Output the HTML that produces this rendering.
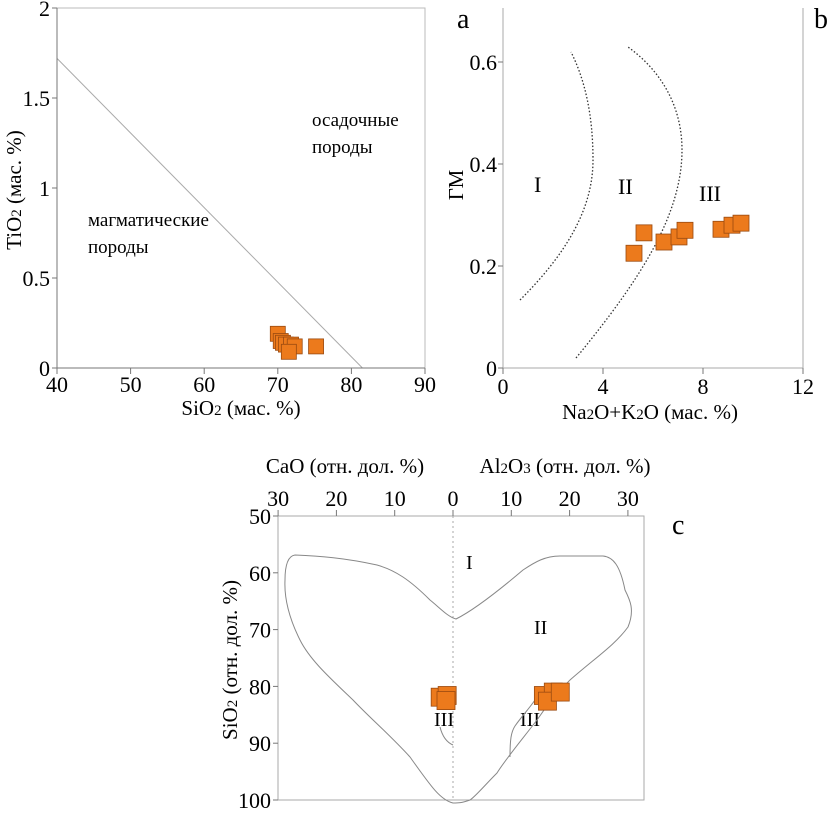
<!DOCTYPE html>
<html><head><meta charset="utf-8"><style>
html,body{margin:0;padding:0;background:#fff}
svg{display:block;font-family:"Liberation Serif",serif}
</style></head><body>
<svg id="s" width="832" height="814" viewBox="0 0 832 814" xmlns="http://www.w3.org/2000/svg">
<g id="ga">
  <text x="312" y="126" font-size="19">осадочные</text>
  <text x="312" y="153" font-size="19">породы</text>
  <text x="88" y="226" font-size="19">магматические</text>
  <text x="88" y="253" font-size="19">породы</text>
  <text x="241" y="415" font-size="21" text-anchor="middle">SiO<tspan font-size="15">2</tspan> (мас. %)</text>
  <text transform="translate(21,190) rotate(-90)" font-size="21" text-anchor="middle">TiO<tspan font-size="15">2</tspan> (мас. %)</text>
  <text x="457" y="28" font-size="28">a</text>
</g>
<g id="gb">
  <text x="534" y="192" font-size="22">I</text>
  <text x="618" y="194" font-size="22">II</text>
  <text x="699" y="201" font-size="22">III</text>
  <text x="650" y="419" font-size="21" text-anchor="middle">Na<tspan font-size="15">2</tspan>O+K<tspan font-size="15">2</tspan>O (мас. %)</text>
  <text transform="translate(463,185) rotate(-90)" font-size="21" text-anchor="middle">ГМ</text>
  <text x="814" y="28" font-size="28">b</text>
</g>
<g id="gc">
  <text x="345" y="473" font-size="21" text-anchor="middle">CaO (отн. дол. %)</text>
  <text x="565" y="473" font-size="21" text-anchor="middle">Al<tspan font-size="15">2</tspan>O<tspan font-size="15">3</tspan> (отн. дол. %)</text>
  <text transform="translate(237,660) rotate(-90)" font-size="21" text-anchor="middle">SiO<tspan font-size="15">2</tspan> (отн. дол. %)</text>
  <text x="672" y="534" font-size="28">c</text>
  <text x="466" y="569" font-size="20">I</text>
  <text x="534" y="634" font-size="20">II</text>
  <text x="434" y="726" font-size="20">III</text>
  <text x="520" y="726" font-size="20">III</text>
</g>
</svg>
<script>
// Panel a data
const aSiO2 = [70.0, 70.4, 70.7, 71.1, 71.8, 72.3, 71.5, 75.2];
const aTiO2 = [0.19, 0.15, 0.14, 0.13, 0.13, 0.12, 0.09, 0.12];
const aXTicks = [40, 50, 60, 70, 80, 90];
const aYTicks = [0, 0.5, 1, 1.5, 2];
// Panel b data
const bAlk = [5.24, 5.64, 6.44, 7.04, 7.28, 8.72, 9.16, 9.52];
const bGM = [0.225, 0.265, 0.247, 0.257, 0.27, 0.272, 0.28, 0.284];
const bXTicks = [0, 4, 8, 12];
const bYTicks = [0, 0.2, 0.4, 0.6];
// Panel c data
const cCaO = [2.2, 1.0, 1.2];
const cCaOSi = [81.9, 81.6, 82.5];
const cAl = [15.5, 17.2, 16.2, 18.4];
const cAlSi = [81.6, 81.0, 82.6, 81.0];
const cTopTicks = [-30, -20, -10, 0, 10, 20, 30];
const cYTicks = [50, 60, 70, 80, 90, 100];

const NS = "http://www.w3.org/2000/svg";
function mk(parent, tag, attrs, text){
  const el = document.createElementNS(NS, tag);
  for (const k in attrs) el.setAttribute(k, attrs[k]);
  if (text !== undefined) el.textContent = text;
  parent.appendChild(el);
  return el;
}
const OR = "#ec7a1c", ORS = "#9a4a10";
let e;

// ---------- panel a ----------
const ga = document.getElementById('ga');
const ax = v => 57 + (v - 40) * 7.36;
const ay = v => 368 - v * 180;
e = mk(ga, 'rect', {x:57, y:8, width:368, height:360, fill:'none', stroke:'#bbb'});


e = mk(ga, 'line', {x1:ax(40), y1:ay(1.72), x2:ax(81.5), y2:ay(0), stroke:'#aaa'});


e = mk(ga, 'line', {x1:57, y1:368, x2:425, y2:368, stroke:'#777'});


e = mk(ga, 'line', {x1:57, y1:8, x2:57, y2:368, stroke:'#777'});


aXTicks.forEach(t => {
  e = mk(ga, 'line', {x1:ax(t), y1:368, x2:ax(t), y2:374, stroke:'#777'});
  
  
  e = mk(ga, 'text', {x:ax(t), y:392, 'font-size':22, 'text-anchor':'middle'}, String(t));
  
  
});
aYTicks.forEach(t => {
  e = mk(ga, 'line', {x1:52, y1:ay(t), x2:57, y2:ay(t), stroke:'#777'});
  
  
  e = mk(ga, 'text', {x:50, y:ay(t)+8, 'font-size':22, 'text-anchor':'end'}, String(t));
  
  
});
aSiO2.forEach((v, i) => {
  e = mk(ga, 'rect', {x:ax(v)-7.5, y:ay(aTiO2[i])-7.5, width:15, height:15, fill:OR, stroke:ORS, 'stroke-width':0.8});
  
  
});

// ---------- panel b ----------
const gb = document.getElementById('gb');
const bx = v => 503 + v * 25;
const by = v => 368 - v * 510;
e = mk(gb, 'polyline', {points:'503,8 503,368 803,368 803,8', fill:'none', stroke:'#aaa'});


e = mk(gb, 'path', {d:'M520,300 C565,255 593,210 593,160 C593,115 585,80 571,52', fill:'none', stroke:'#333', 'stroke-width':1.3, 'stroke-dasharray':'1.5 2'});


e = mk(gb, 'path', {d:'M576,358 C640,280 682,215 682,150 C682,105 660,70 628,47', fill:'none', stroke:'#333', 'stroke-width':1.3, 'stroke-dasharray':'1.5 2'});


bXTicks.forEach(t => {
  e = mk(gb, 'line', {x1:bx(t), y1:368, x2:bx(t), y2:374, stroke:'#777'});
  
  
  e = mk(gb, 'text', {x:bx(t), y:394, 'font-size':22, 'text-anchor':'middle'}, String(t));
  
  
});
bYTicks.forEach(t => {
  e = mk(gb, 'line', {x1:498, y1:by(t), x2:503, y2:by(t), stroke:'#777'});
  
  
  e = mk(gb, 'text', {x:497, y:by(t)+8, 'font-size':22, 'text-anchor':'end'}, String(t));
  
  
});
bAlk.forEach((v, i) => {
  e = mk(gb, 'rect', {x:bx(v)-8, y:by(bGM[i])-8, width:16, height:16, fill:OR, stroke:ORS, 'stroke-width':0.8});
  
  
});

// ---------- panel c ----------
const gc = document.getElementById('gc');
const cx = v => 453 + v * 5.83;   // negative = CaO side (left)
const cy = v => 516 + (v - 50) * 5.68;
e = mk(gc, 'rect', {x:278, y:516, width:366, height:284, fill:'none', stroke:'#aaa'});


e = mk(gc, 'line', {x1:453, y1:516, x2:453, y2:800, stroke:'#aaa', 'stroke-dasharray':'2 3'});


e = mk(gc, 'path', {d:'M453,803 C440,800 430,785 410,757 C390,735 370,718 353,700 C330,678 310,660 300,640 C290,620 284,600 285,580 C285,565 288,556 295,555 C320,556 345,558 377,565 C395,570 410,580 430,600 C440,608 448,617 456,619 C470,612 490,598 523,570 C535,562 545,556 560,556 L603,556 C613,557 620,565 625,590 C630,600 635,610 628,627 C615,645 595,658 570,680 C555,695 545,708 537,720 C520,742 505,760 497,773 C485,785 475,797 470,800 C462,803 458,803 453,803 Z', fill:'none', stroke:'#888'});


e = mk(gc, 'path', {d:'M440,727 C442,735 446,742 453,745', fill:'none', stroke:'#888'});


e = mk(gc, 'path', {d:'M510,757 C510,740 511,732 515,726 C522,716 528,710 535,700', fill:'none', stroke:'#888'});


cTopTicks.forEach(t => {
  e = mk(gc, 'line', {x1:cx(t), y1:510, x2:cx(t), y2:516, stroke:'#777'});
  
  
  e = mk(gc, 'text', {x:cx(t), y:506, 'font-size':22, 'text-anchor':'middle'}, String(Math.abs(t)));
  
  
});
cYTicks.forEach(t => {
  e = mk(gc, 'line', {x1:273, y1:cy(t), x2:278, y2:cy(t), stroke:'#777'});
  
  
  e = mk(gc, 'text', {x:271, y:cy(t)+8, 'font-size':22, 'text-anchor':'end'}, String(t));
  
  
});
cCaO.forEach((v, i) => {
  e = mk(gc, 'rect', {x:cx(-v)-9, y:cy(cCaOSi[i])-9, width:18, height:18, fill:OR, stroke:ORS, 'stroke-width':0.8});
  
  
});
cAl.forEach((v, i) => {
  e = mk(gc, 'rect', {x:cx(v)-9, y:cy(cAlSi[i])-9, width:18, height:18, fill:OR, stroke:ORS, 'stroke-width':0.8});
  
  
});
</script>
</body></html>
